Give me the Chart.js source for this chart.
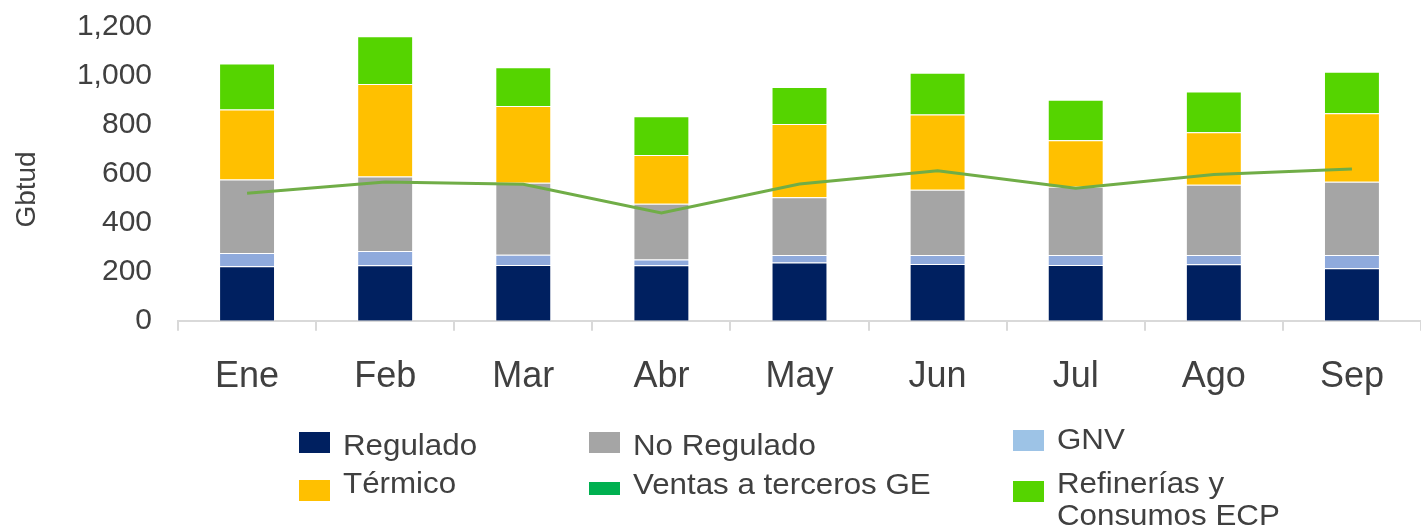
<!DOCTYPE html>
<html>
<head>
<meta charset="utf-8">
<script src="https://cdn.jsdelivr.net/npm/chart.js@4"></script>
<style>
  body { margin: 0; background: #fff; }
  #wrap { position: relative; width: 1421px; height: 528px; }
  #legend { position: absolute; left: 0; top: 0; width: 1421px; height: 528px; pointer-events: none;
    font-family: "Liberation Sans", Arial, sans-serif; font-size: 29px; color: #404040; }
  .item { position: absolute; line-height: 32px; white-space: nowrap; transform: scaleX(1.08); transform-origin: left top; }
  .box { position: absolute; width: 31px; height: 21px; }
</style>
</head>
<body>
<div id="wrap">
  <canvas id="gasChart" width="1421" height="528"></canvas>
  <div id="legend"></div>
</div>
<script>
var months = ["Ene", "Feb", "Mar", "Abr", "May", "Jun", "Jul", "Ago", "Sep"];
var regulado = [223, 227, 228, 227, 238, 232, 228, 231, 215];
var gnv = [54, 58, 42, 23, 31, 37, 41, 38, 54];
var noRegulado = [300, 304, 294, 228, 236, 266, 279, 287, 299];
var termico = [286, 378, 313, 199, 299, 308, 189, 214, 280];
var refinerias = [188, 195, 159, 158, 151, 170, 166, 167, 169];
var ventasGE = [521, 567, 558, 440, 559, 613, 541, 598, 620];
var yTicks = [0, 200, 400, 600, 800, 1000, 1200];

function bar(label, data, color) {
  return {
    type: "bar",
    label: label,
    data: data,
    backgroundColor: color,
    borderColor: "rgba(255,255,255,0.5)",
    borderWidth: 1,
    stack: "s",
    order: 1,
    barPercentage: 0.405,
    categoryPercentage: 1,
  };
}

var ctx = document.getElementById("gasChart").getContext("2d");
var chart = new Chart(ctx, {
  data: {
    labels: months,
    datasets: [
      bar("Regulado", regulado, "#002060"),
      bar("GNV", gnv, "#8FAADC"),
      bar("No Regulado", noRegulado, "#A5A5A5"),
      bar("Térmico", termico, "#FFC000"),
      bar("Refinerías y Consumos ECP", refinerias, "#55D400"),
      {
        type: "line",
        label: "Ventas a terceros GE",
        data: ventasGE,
        borderColor: "#70AD47",
        borderWidth: 3,
        pointRadius: 0,
        tension: 0,
        stack: "l",
        order: 0,
      },
    ],
  },
  options: {
    responsive: false,
    animation: false,
    layout: { padding: { top: 27, bottom: 104, left: 10, right: 0 } },
    plugins: { legend: { display: false }, tooltip: { enabled: false } },
    scales: {
      x: {
        stacked: true,
        grid: { drawOnChartArea: false, drawTicks: true, tickLength: 10, color: "#D9D9D9", lineWidth: 2 },
        border: { color: "#D9D9D9", width: 2 },
        ticks: { padding: 25, color: "#404040", font: { family: "Liberation Sans", size: 36 } },
      },
      y: {
        stacked: true,
        min: 0,
        max: 1200,
        grid: { display: false, drawTicks: false },
        border: { display: false },
        afterBuildTicks: (scale) => {
          scale.ticks = yTicks.map((v) => ({ value: v }));
        },
        afterFit: (scale) => {
          scale.width = 168;
          scale.paddingTop = 0;
          scale.paddingBottom = 0;
        },
        ticks: {
          padding: 26,
          color: "#404040",
          font: { family: "Liberation Sans", size: 30 },
          callback: (v) => v.toLocaleString("en-US"),
        },
        title: {
          display: true,
          text: "Gbtud    ",
          color: "#404040",
          font: { family: "Liberation Sans", size: 28 },
          padding: { top: 0, bottom: 0 },
        },
      },
    },
  },
});

// legend laid out in three columns like the original
var legendItems = [
  { label: "Regulado", color: "#002060", x: 299, ty: 429, by: 432, bh: 21 },
  { label: "No Regulado", color: "#A5A5A5", x: 589, ty: 429, by: 432, bh: 21 },
  { label: "GNV", color: "#9DC3E6", x: 1013, ty: 423, by: 430, bh: 21 },
  { label: "Térmico", color: "#FFC000", x: 299, ty: 467, by: 480, bh: 21 },
  { label: "Ventas a terceros GE", color: "#00B050", x: 589, ty: 468, by: 482, bh: 13 },
  { label: "Refinerías y<br>Consumos ECP", color: "#55D400", x: 1013, ty: 467, by: 481, bh: 21 },
];
var lg = document.getElementById("legend");
legendItems.forEach((it) => {
  var b = document.createElement("div");
  b.className = "box";
  b.style.left = it.x + "px";
  b.style.top = it.by + "px";
  b.style.height = it.bh + "px";
  b.style.background = it.color;
  lg.appendChild(b);
  var t = document.createElement("div");
  t.className = "item";
  t.style.left = it.x + 44 + "px";
  t.style.top = it.ty + "px";
  t.innerHTML = it.label;
  lg.appendChild(t);
});
</script>
</body>
</html>
